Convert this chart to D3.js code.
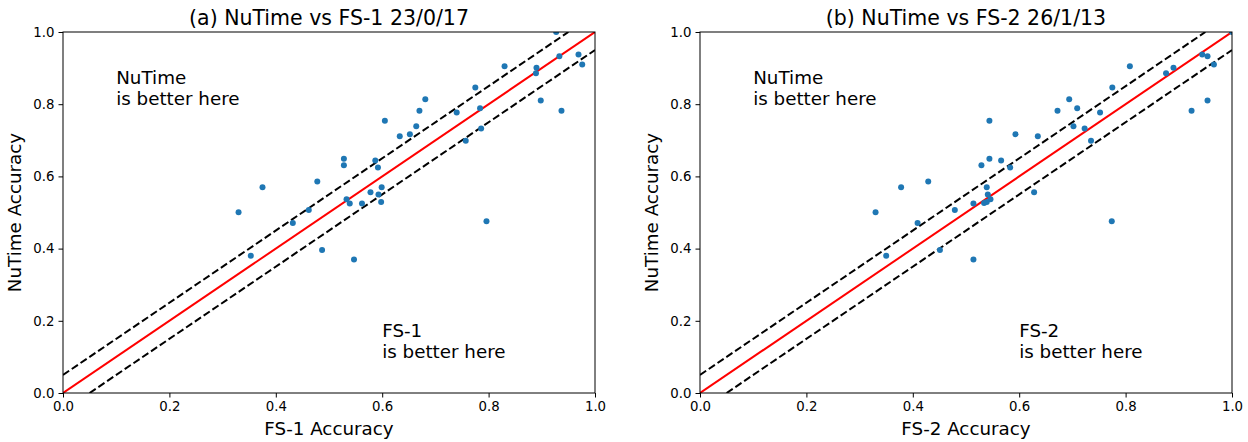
<!DOCTYPE html>
<html><head><meta charset="utf-8">
<script src="https://cdn.jsdelivr.net/npm/d3@7"></script>
<style>body{margin:0;background:#fff;} svg{display:block;} text{font-family:"DejaVu Sans",sans-serif;fill:#000;}</style>
</head><body>
<svg id="chart" width="1248" height="442"></svg>
<script>
const ticks = [0.0, 0.2, 0.4, 0.6, 0.8, 1.0];
const titles = ["(a) NuTime vs FS-1 23/0/17", "(b) NuTime vs FS-2 26/1/13"];
const xLabels = ["FS-1 Accuracy", "FS-2 Accuracy"];
const yLabel = "NuTime Accuracy";
const upperNote = ["NuTime", "is better here"];
const lowerNotes = [["FS-1", "is better here"], ["FS-2", "is better here"]];

// panel (a): FS-1 accuracy vs NuTime accuracy
const fs1X = [0.927,0.933,0.969,0.976,0.830,0.890,0.889,0.898,0.937,0.775,0.784,0.786,0.740,0.757,0.681,0.670,0.664,0.652,0.633,0.605,0.528,0.528,0.587,0.592,0.478,0.375,0.599,0.578,0.593,0.598,0.533,0.539,0.562,0.330,0.462,0.432,0.796,0.487,0.353,0.547];
const fs1Y = [1.000,0.933,0.938,0.910,0.905,0.901,0.886,0.810,0.782,0.846,0.789,0.733,0.777,0.699,0.814,0.782,0.739,0.717,0.711,0.754,0.649,0.631,0.644,0.625,0.586,0.570,0.570,0.556,0.550,0.529,0.537,0.525,0.525,0.501,0.507,0.471,0.476,0.396,0.380,0.370];
// panel (b): FS-2 accuracy vs NuTime accuracy
const fs2X = [0.944,0.954,0.966,0.808,0.890,0.876,0.954,0.924,0.775,0.694,0.709,0.672,0.752,0.702,0.723,0.735,0.544,0.635,0.593,0.544,0.529,0.566,0.583,0.429,0.378,0.539,0.628,0.541,0.534,0.539,0.546,0.514,0.330,0.479,0.409,0.774,0.451,0.350,0.514,1.000];
const fs2Y = [0.938,0.933,0.910,0.905,0.901,0.886,0.810,0.782,0.846,0.814,0.789,0.782,0.777,0.739,0.733,0.699,0.754,0.711,0.717,0.649,0.631,0.644,0.625,0.586,0.570,0.570,0.556,0.550,0.526,0.529,0.537,0.525,0.501,0.507,0.471,0.476,0.396,0.380,0.370,1.000];

const svg = d3.select("#chart");
const panels = [
  {left: 63, xs: fs1X, ys: fs1Y},
  {left: 700, xs: fs2X, ys: fs2Y}
];
const PW = 532, PT = 32, PH = 361;

panels.forEach((p, i) => {
  const x = d3.scaleLinear().domain([0, 1]).range([p.left, p.left + PW]);
  const y = d3.scaleLinear().domain([0, 1]).range([PT + PH, PT]);
  const g = svg.append("g");
  const clipId = "clip" + i;
  svg.append("defs").append("clipPath").attr("id", clipId)
    .append("rect").attr("x", p.left).attr("y", PT).attr("width", PW).attr("height", PH);
  const inner = g.append("g").attr("clip-path", `url(#${clipId})`);

  // reference lines
  const lines = [
    {pts: [[0, 0.05], [0.95, 1]], color: "#000", dash: "7.4,3.2"},
    {pts: [[0.05, 0], [1, 0.95]], color: "#000", dash: "7.4,3.2"},
    {pts: [[0, 0], [1, 1]], color: "#ff0000", dash: null}
  ];
  const lineGen = d3.line().x(d => x(d[0])).y(d => y(d[1]));
  lines.forEach(l => {
    inner.append("path").attr("d", lineGen(l.pts)).attr("fill", "none")
      .attr("stroke", l.color).attr("stroke-width", 2)
      .attr("stroke-dasharray", l.dash);
  });

  // points
  inner.selectAll("circle").data(p.xs.map((v, k) => [v, p.ys[k]])).join("circle")
    .attr("cx", d => x(d[0])).attr("cy", d => y(d[1])).attr("r", 3)
    .attr("fill", "#1f77b4");

  // axes
  const xAxis = g.append("g").attr("transform", `translate(0,${PT + PH})`)
    .call(d3.axisBottom(x).tickValues(ticks).tickFormat(d3.format(".1f")).tickSizeOuter(0).tickSize(4.5).tickPadding(4));
  const yAxis = g.append("g").attr("transform", `translate(${p.left},0)`)
    .call(d3.axisLeft(y).tickValues(ticks).tickFormat(d3.format(".1f")).tickSizeOuter(0).tickSize(4.5).tickPadding(4));
  [xAxis, yAxis].forEach(a => {
    a.select(".domain").remove();
    a.selectAll("line").attr("stroke", "#000").attr("stroke-width", 1);
    a.selectAll("text").style("font-size", "13.3px").style("font-family", "DejaVu Sans");
  });
  // frame
  g.append("rect").attr("x", p.left).attr("y", PT).attr("width", PW).attr("height", PH)
    .attr("fill", "none").attr("stroke", "#000").attr("stroke-width", 1);

  // title
  g.append("text").attr("x", p.left + PW / 2).attr("y", 25).attr("text-anchor", "middle")
    .style("font-size", "20.5px").text(titles[i]);
  // x label
  g.append("text").attr("x", p.left + PW / 2).attr("y", 435).attr("text-anchor", "middle")
    .style("font-size", "18.3px").text(xLabels[i]);
  // y label
  g.append("text").attr("transform", `translate(${p.left - 42},${PT + PH / 2}) rotate(-90)`)
    .attr("text-anchor", "middle").style("font-size", "18.3px").text(yLabel);

  // annotations
  const t1 = g.append("text").style("font-size", "18.3px");
  t1.append("tspan").attr("x", x(0.1)).attr("y", 84).text(upperNote[0]);
  t1.append("tspan").attr("x", x(0.1)).attr("y", 105).text(upperNote[1]);
  const t2 = g.append("text").style("font-size", "18.3px");
  t2.append("tspan").attr("x", x(0.6)).attr("y", 337).text(lowerNotes[i][0]);
  t2.append("tspan").attr("x", x(0.6)).attr("y", 358).text(lowerNotes[i][1]);
});
</script>
</body></html>
